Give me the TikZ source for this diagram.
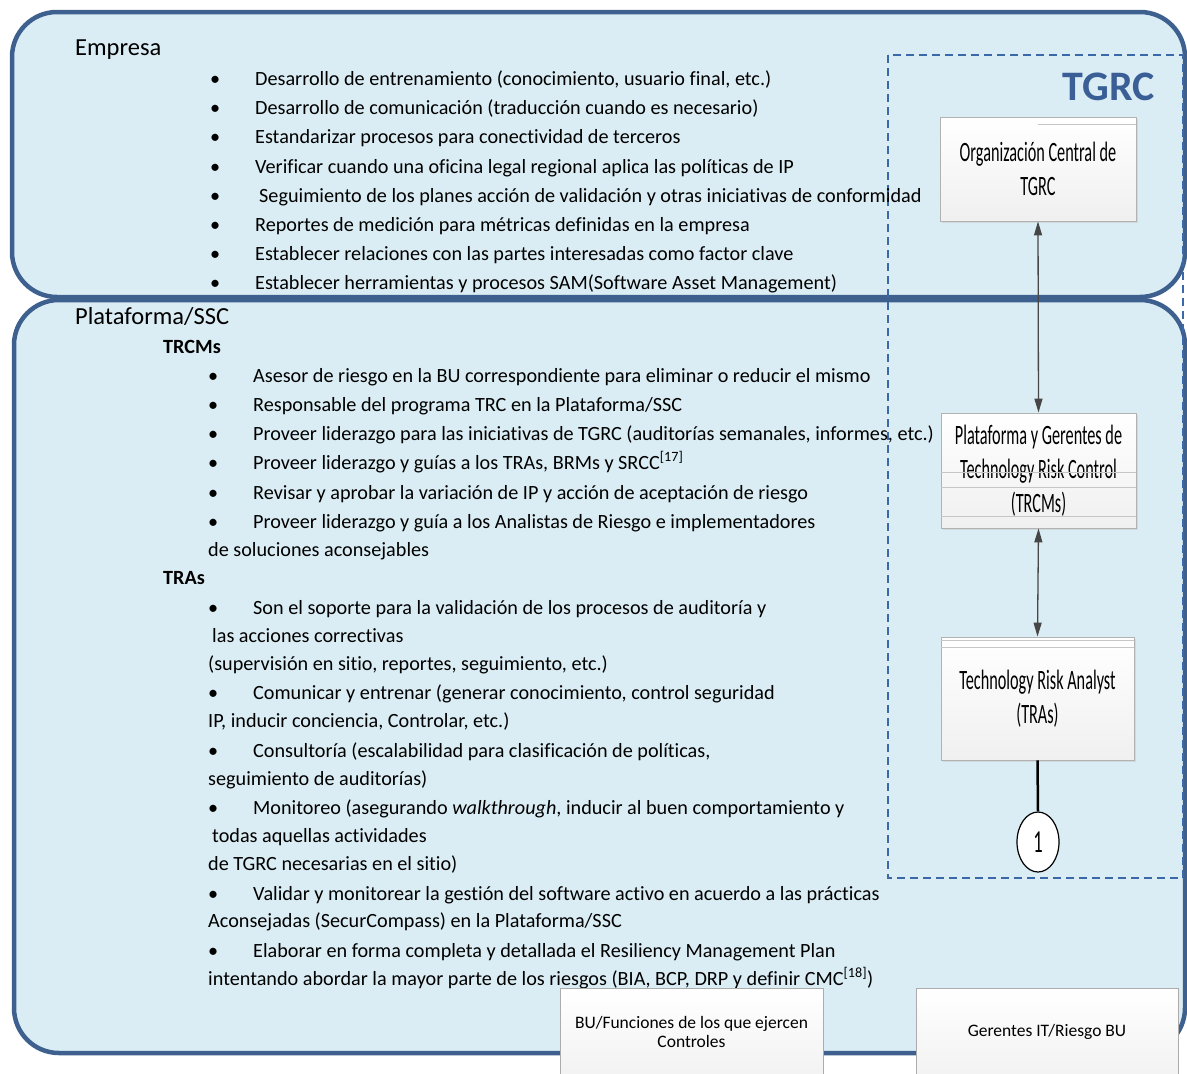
\documentclass[tikz,border=0pt]{standalone}
\usepackage{fontspec}
\setmainfont{Carlito}[Ligatures=NoCommon]
\newfontfamily\boxfont[FakeStretch=0.58]{Carlito}
\usetikzlibrary{arrows.meta,shapes.geometric,shadows}
\definecolor{panelfill}{RGB}{219,237,244}
\definecolor{panelline}{RGB}{61,96,143}
\definecolor{dashblue}{RGB}{58,104,168}
\definecolor{tgrcblue}{RGB}{58,95,150}
\definecolor{arrowgray}{RGB}{70,70,70}

\newcommand{\bul}{\makebox[45pt][l]{\textbullet}}

\tikzset{
  panel/.style={draw=panelline, fill=panelfill, line width=4.5pt, rounded corners=45pt},
  rolebox/.style={draw=gray!60, top color=white, bottom color=gray!12, line width=0.8pt,
    drop shadow={shadow xshift=2pt, shadow yshift=-2pt, fill=gray!45},
    align=center, inner sep=0pt, font=\boxfont\fontsize{28}{34}\selectfont},
  unitbox/.style={draw=gray!65, top color=white, bottom color=gray!10, line width=0.9pt,
    align=center, inner sep=0pt, minimum height=88pt, font=\fontsize{17.5}{19.5}\selectfont},
  boxrule/.style={draw=gray!45, line width=0.6pt},
  listline/.style={anchor=base west, inner sep=0pt, font=\fontsize{20.2}{24}\selectfont},
  heading/.style={anchor=base west, inner sep=0pt, font=\fontsize{24.5}{28}\selectfont},
  link/.style={draw=arrowgray, line width=1.3pt,
    {Triangle[length=14pt,width=8pt]}-{Triangle[length=14pt,width=8pt]}},
}

\begin{document}
\begin{tikzpicture}[x=1pt, y=-1pt]
    \useasboundingbox (0,0) rectangle (1187,1074);
    \clip (0,0) rectangle (1187,1074);

    % panels
    \draw[panel] (14,300) rectangle (1185,1053);
    \draw[panel] (12,12) rectangle (1185,297);

    % TGRC frame
    \draw[dashblue, line width=1.6pt, dash pattern=on 8pt off 5pt] (888,55) rectangle (1183,878);
    \node[anchor=east, inner sep=0pt, font=\bfseries\fontsize{42}{46}\selectfont, text=tgrcblue] (tgrc) at (1155,87) {TGRC};

    % Empresa
    \node[heading] (empresa) at (75,55) {Empresa};
    \foreach \y/\txt [count=\i] in {
        85/{\bul Desarrollo de entrenamiento (conocimiento, usuario final, etc.)},
        114/{\bul Desarrollo de comunicación (traducción cuando es necesario)},
        143/{\bul Estandarizar procesos para conectividad de terceros},
        173/{\bul Verificar cuando una oficina legal regional aplica las políticas de IP},
        202/{\bul\hspace{4pt}Seguimiento de los planes acción de validación y otras iniciativas de conformidad},
        231/{\bul Reportes de medición para métricas definidas en la empresa},
        260/{\bul Establecer relaciones con las partes interesadas como factor clave},
        289/{\bul Establecer herramientas y procesos SAM(Software Asset Management)}}
        \node[listline] (empline\i) at (210,\y) {\txt};

    % Plataforma/SSC
    \node[heading] (plataforma) at (75,324) {Plataforma/SSC};
    \node[listline, font=\bfseries\fontsize{20.2}{24}\selectfont] (trcmhead) at (163,353) {TRCMs};
    \node[listline, font=\bfseries\fontsize{20.2}{24}\selectfont] (trahead) at (163,584) {TRAs};
    \foreach \x/\y/\txt [count=\i] in {
        208/382/{\bul Asesor de riesgo en la BU correspondiente para eliminar o reducir el mismo},
        208/411/{\bul Responsable del programa TRC en la Plataforma/SSC},
        208/440/{\bul Proveer liderazgo para las iniciativas de TGRC (auditorías semanales, informes, etc.)},
        208/469/{\bul Proveer liderazgo y guías a los TRAs, BRMs y SRCC\textsuperscript{[17]}},
        208/499/{\bul Revisar y aprobar la variación de IP y acción de aceptación de riesgo},
        208/528/{\bul Proveer liderazgo y guía a los Analistas de Riesgo e implementadores},
        208/556/{de soluciones aconsejables},
        208/614/{\bul Son el soporte para la validación de los procesos de auditoría y},
        212/642/{las acciones correctivas},
        208/670/{(supervisión en sitio, reportes, seguimiento, etc.)},
        208/699/{\bul Comunicar y entrenar (generar conocimiento, control seguridad},
        208/727/{IP, inducir conciencia, Controlar, etc.)},
        208/757/{\bul Consultoría (escalabilidad para clasificación de políticas,},
        208/785/{seguimiento de auditorías)},
        208/814/{\bul Monitoreo (asegurando \textit{walkthrough}, inducir al buen comportamiento y},
        212/842/{todas aquellas actividades},
        208/870/{de TGRC necesarias en el sitio)},
        208/900/{\bul Validar y monitorear la gestión del software activo en acuerdo a las prácticas},
        208/927/{Aconsejadas (SecurCompass) en la Plataforma/SSC},
        208/957/{\bul Elaborar en forma completa y detallada el Resiliency Management Plan},
        208/985/{intentando abordar la mayor parte de los riesgos (BIA, BCP, DRP y definir CMC\textsuperscript{[18]})}}
        \node[listline] (platline\i) at (\x,\y) {\txt};

    % role boxes
    \node[rolebox, minimum width=196pt, minimum height=104pt] (orgc) at (1038,169) {Organización Central de\\TGRC};
    \node[rolebox, minimum width=195pt, minimum height=115pt] (trcm) at (1038.5,470.5) {Plataforma y Gerentes de\\Technology Risk Control\\(TRCMs)};
    \node[rolebox, minimum width=193pt, minimum height=123pt] (tra) at (1037.5,698.5) {Technology Risk Analyst\\(TRAs)};
    \draw[boxrule] ([yshift=-8pt]orgc.north) -- ([yshift=-8pt]orgc.north east);
    \draw[boxrule] ([yshift=-60pt]trcm.north west) -- ([yshift=-60pt]trcm.north east);
    \draw[boxrule] ([yshift=-75pt]trcm.north west) -- ([yshift=-75pt]trcm.north east);
    \draw[boxrule] ([yshift=-104pt]trcm.north west) -- ([yshift=-104pt]trcm.north east);
    \draw[boxrule] ([yshift=-4pt]tra.north west) -- ([yshift=-4pt]tra.north east);
    \draw[boxrule] ([yshift=-11pt]tra.north west) -- ([yshift=-11pt]tra.north east);
    \node[ellipse, draw=black, fill=white, line width=1.2pt, minimum width=42pt, minimum height=60pt, inner sep=0pt,
        font=\boxfont\fontsize{32}{34}\selectfont] (one) at (1038,842) {1};

    % connectors
    \draw[link] (orgc.south) -- (trcm.north);
    \draw[link] (trcm.south) -- (tra.north);
    \draw[black, line width=2.5pt] (tra.south) -- (one.north);

    % bottom boxes
    \node[unitbox, minimum width=263pt] (bufunc) at (691.5,1032) {BU/Funciones de los que ejercen\\Controles};
    \node[unitbox, minimum width=262pt] (itrisk) at (1047,1032) {Gerentes IT/Riesgo BU};
\end{tikzpicture}
\end{document}
